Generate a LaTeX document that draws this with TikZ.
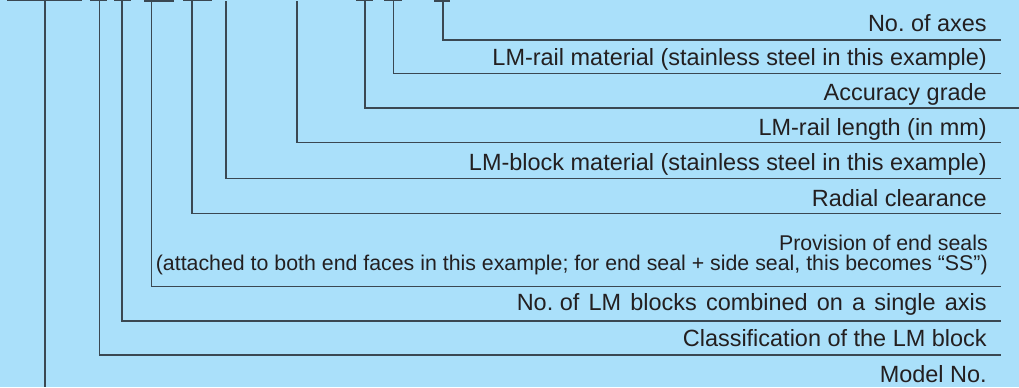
\documentclass[tikz,border=0pt]{standalone}
\usepackage{fontspec}
\setmainfont{Liberation Sans}
\usepackage{xcolor}
\definecolor{bgblue}{RGB}{170,224,250}
\definecolor{leadgray}{RGB}{58,72,82}
\definecolor{txtgray}{RGB}{35,31,32}
\frenchspacing

\begin{document}
\begin{tikzpicture}[x=0.75pt,y=0.75pt,yscale=-1,xscale=1,
    lead/.style={draw=leadgray,line width=0.9pt},
    ubar/.style={draw=leadgray,line width=1.3pt},
    lbl/.style={anchor=base east,inner sep=0pt,text=txtgray,font=\fontsize{17.6}{21}\selectfont},
    note/.style={anchor=base east,inner sep=0pt,text=txtgray,align=right,font=\fontsize{16}{15}\selectfont}]
        %Background
        \fill [bgblue] (0,0) rectangle (1019,387) ;
        \useasboundingbox (0,0) rectangle (1019,387) ;

        %Underlines of the code
        \draw [ubar] (7,0.6) -- (82,0.6) ;
        \draw [ubar] (90,0.6) -- (107,0.6) ;
        \draw [ubar] (114,0.6) -- (131,0.6) ;
        \draw [ubar] (144,0.8) -- (174,0.8) ;
        \draw [ubar] (183,0.6) -- (212,0.6) ;
        \draw [ubar] (356,0.6) -- (373,0.6) ;
        \draw [ubar] (384,0.6) -- (402,0.6) ;
        \draw [ubar] (434,0.8) -- (450,0.8) ;

        %Start points on the code
        \coordinate (axesTop) at (443,0) ;
        \coordinate (railmatTop) at (393.3,0) ;
        \coordinate (gradeTop) at (365,0) ;
        \coordinate (raillenTop) at (297,1) ;
        \coordinate (blockmatTop) at (226,1) ;
        \coordinate (clearTop) at (192,0) ;
        \coordinate (sealTop) at (151.7,0) ;
        \coordinate (nblockTop) at (122,0) ;
        \coordinate (clsTop) at (99.3,0) ;
        \coordinate (modelTop) at (45,0) ;

        %End points of the leaders
        \coordinate (axesEnd) at (1001,40) ;
        \coordinate (railmatEnd) at (1001,73.3) ;
        \coordinate (gradeEnd) at (1019,108) ;
        \coordinate (raillenEnd) at (1001,142.3) ;
        \coordinate (blockmatEnd) at (1001,178.3) ;
        \coordinate (clearEnd) at (1001,213.3) ;
        \coordinate (sealEnd) at (1001,286.7) ;
        \coordinate (nblockEnd) at (1001,321) ;
        \coordinate (clsEnd) at (1001,355) ;
        \coordinate (modelEnd) at (45,387) ;

        % Text Nodes
        \node [lbl] (axes) at (987,31.7) {No. of axes};
        \node [lbl] (railmat) at (987,65.7) {LM-rail material (stainless steel in this example)};
        \node [lbl] (grade) at (987,100) {Accuracy grade};
        \node [lbl] (raillen) at (987,135) {LM-rail length (in mm)};
        \node [lbl] (blockmat) at (987,170.7) {LM-block material (stainless steel in this example)};
        \node [lbl] (clear) at (987,206.7) {Radial clearance};
        \node [note] (seal) at (988,270) {Provision of end seals\hspace{3pt}\\(attached to both end faces in this example; for end seal + side seal, this becomes “SS”)};
        \node [lbl] (nblock) at (987,310.7) {No.\ of\hspace{2pt} LM\hspace{2pt} blocks\hspace{2pt} combined\hspace{2pt} on\hspace{2pt} a\hspace{2pt} single\hspace{2pt} axis};
        \node [lbl] (cls) at (987,346.7) {Classification of the LM block};
        \node [lbl] (model) at (987,382.7) {Model No.};

        %Leaders
        \draw [lead] (axesTop) |- (axesEnd) ;
        \draw [lead] (railmatTop) |- (railmatEnd) ;
        \draw [lead] (gradeTop) |- (gradeEnd) ;
        \draw [lead] (raillenTop) |- (raillenEnd) ;
        \draw [lead] (blockmatTop) |- (blockmatEnd) ;
        \draw [lead] (clearTop) |- (clearEnd) ;
        \draw [lead] (sealTop) |- (sealEnd) ;
        \draw [lead] (nblockTop) |- (nblockEnd) ;
        \draw [lead] (clsTop) |- (clsEnd) ;
        \draw [lead] (modelTop) -- (modelEnd) ;

\end{tikzpicture}
\end{document}
